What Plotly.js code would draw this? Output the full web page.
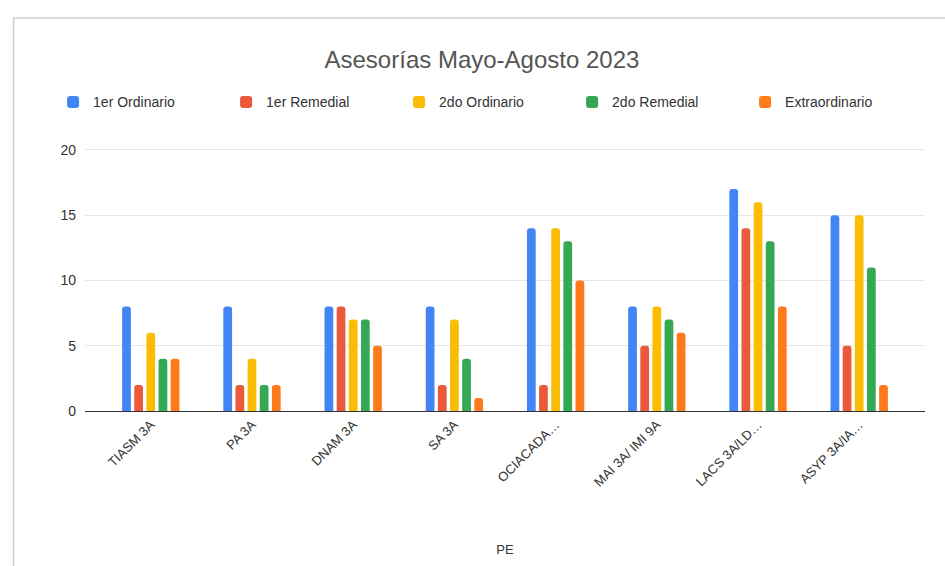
<!DOCTYPE html>
<html>
<head>
<meta charset="utf-8">
<script src="https://cdn.plot.ly/plotly-3.0.1.min.js"></script>
<style>html,body{margin:0;padding:0;background:#fff;}#chart{width:945px;height:566px;}</style>
</head>
<body>
<div id="chart"></div>
<script>
const categories = ["TIASM 3A", "PA 3A", "DNAM 3A", "SA 3A", "OCIACADA…", "MAI 3A/ IMI 9A", "LACS 3A/LD…", "ASYP 3A/IA…"];
const seriesNames = ["1er Ordinario", "1er Remedial", "2do Ordinario", "2do Remedial", "Extraordinario"];
const primerOrdinario = [8, 8, 8, 8, 14, 8, 17, 15];
const primerRemedial = [2, 2, 8, 2, 2, 5, 14, 5];
const segundoOrdinario = [6, 4, 7, 7, 14, 8, 16, 15];
const segundoRemedial = [4, 2, 7, 4, 13, 7, 13, 11];
const extraordinario = [4, 2, 5, 1, 10, 6, 8, 2];
const colors = ["#4285F4", "#EA5A3A", "#FBBC04", "#34A853", "#FF7A1A"];
const yTicks = [0, 5, 10, 15, 20];

const allValues = [primerOrdinario, primerRemedial, segundoOrdinario, segundoRemedial, extraordinario];
const data = allValues.map((vals, i) => ({
  type: "bar",
  name: seriesNames[i],
  x: categories,
  y: vals,
  marker: {color: colors[i], cornerradius: 3},
  hoverinfo: "x+y+name"
}));

const layout = {
  width: 945, height: 566,
  paper_bgcolor: "#fff", plot_bgcolor: "#fff",
  font: {family: "Liberation Sans, Arial, sans-serif", color: "#444"},
  margin: {l: 85, r: 20, t: 146, b: 155},
  title: {text: "Asesorías Mayo-Agosto 2023", x: 0.51, xanchor: "center", y: 0.895, yanchor: "middle", font: {size: 24, color: "#555"}},
  barmode: "group",
  bargap: 0.4,
  bargroupgap: 0.28,
  showlegend: true,
  legend: {orientation: "h", x: -0.038, xanchor: "left", y: 1.165, yanchor: "middle",
    font: {size: 14, color: "#333"}, entrywidth: 128, entrywidthmode: "pixels", itemclick: false},
  xaxis: {
    type: "category",
    range: [-0.65, 7.65],
    tickangle: -45,
    tickfont: {size: 13, color: "#333"},
    showgrid: false,
    showline: true, linecolor: "#333", linewidth: 1,
    ticks: "",
    title: {text: "PE", font: {size: 13, color: "#333"}, standoff: 56}
  },
  yaxis: {
    range: [0, 20.3],
    tickvals: yTicks,
    ticktext: yTicks.map(String),
    tickfont: {size: 14, color: "#333"},
    gridcolor: "#e6e6e6",
    zeroline: true, zerolinecolor: "#333", zerolinewidth: 1,
    ticks: "", ticklabelstandoff: 8
  },
  shapes: [{type: "rect", xref: "paper", yref: "paper", x0: -0.085, x1: 1.1, y0: -0.7, y1: 1.483, line: {color: "#cfcfcf", width: 1.5}, fillcolor: "rgba(0,0,0,0)", layer: "below"}]
};

Plotly.newPlot("chart", data, layout, {displayModeBar: false});
</script>
</body>
</html>
